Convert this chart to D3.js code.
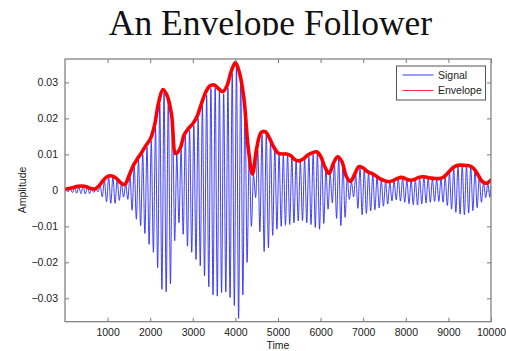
<!DOCTYPE html>
<html><head><meta charset="utf-8">
<script src="https://cdn.jsdelivr.net/npm/d3@7"></script>
<style>
html,body{margin:0;padding:0;background:#fff;}
svg{display:block;}
</style>
</head><body>
<script>
// ---- data ----
const title = "An Envelope Follower";
const xLabel = "Time";
const yLabel = "Amplitude";
const legendNames = ["Signal", "Envelope"];
const xTicks = [1000,2000,3000,4000,5000,6000,7000,8000,9000,10000];
const yTicks = [-0.03,-0.02,-0.01,0,0.01,0.02,0.03];
const cyclePeriod = 100; // time units per oscillation of the signal
// envelope, sampled every 100 time units from 0 to 10000
const envelope = [
 0.0003,0.0005,0.0008,0.0011,0.0012,0.0010,0.0005,0.0004,0.0013,0.0028,
 0.0039,0.0040,0.0034,0.0022,0.0016,0.0040,0.0068,0.0088,0.0105,0.0125,
 0.0142,0.0180,0.0245,0.0280,0.0262,0.0212,0.0102,0.0116,0.0155,0.0172,
 0.0185,0.0205,0.0240,0.0272,0.0290,0.0293,0.0283,0.0274,0.0290,0.0330,
 0.0355,0.0325,0.0255,0.0120,0.0045,0.0117,0.0160,0.0163,0.0145,0.0120,
 0.0104,0.0101,0.0101,0.0096,0.0085,0.0082,0.0088,0.0098,0.0104,0.0107,
 0.0095,0.0065,0.0047,0.0075,0.0093,0.0080,0.0040,0.0025,0.0045,0.0066,
 0.0062,0.0052,0.0047,0.0040,0.0032,0.0027,0.0024,0.0027,0.0033,0.0036,
 0.0032,0.0028,0.0030,0.0036,0.0038,0.0036,0.0034,0.0033,0.0033,0.0038,
 0.0050,0.0062,0.0069,0.0070,0.0069,0.0068,0.0060,0.0042,0.0024,0.0020,
 0.0029];
// signal: positive and negative peak of each oscillation cycle
const signalHigh = [
 0.0002,0.0004,0.0007,0.0010,0.0011,0.0009,0.0004,0.0003,0.0013,0.0027,
 0.0037,0.0038,0.0031,0.0020,0.0016,0.0040,0.0065,0.0084,0.0100,0.0120,
 0.0137,0.0175,0.0240,0.0272,0.0255,0.0200,0.0100,0.0112,0.0150,0.0167,
 0.0180,0.0200,0.0235,0.0265,0.0283,0.0285,0.0276,0.0268,0.0285,0.0325,
 0.0348,0.0315,0.0240,0.0108,0.0042,0.0112,0.0155,0.0157,0.0138,0.0115,
 0.0100,0.0097,0.0097,0.0092,0.0081,0.0079,0.0085,0.0094,0.0100,0.0103,
 0.0090,0.0060,0.0045,0.0072,0.0089,0.0075,0.0036,0.0023,0.0043,0.0063,
 0.0059,0.0049,0.0044,0.0037,0.0030,0.0025,0.0022,0.0025,0.0031,0.0034,
 0.0030,0.0026,0.0028,0.0034,0.0036,0.0034,0.0032,0.0031,0.0031,0.0036,
 0.0048,0.0059,0.0066,0.0067,0.0066,0.0065,0.0056,0.0039,0.0022,0.0019];
const signalLow = [
 -0.0004,-0.0006,-0.0008,-0.0009,-0.0010,-0.0009,-0.0006,-0.0004,-0.0018,-0.0032,
 -0.0036,-0.0036,-0.0028,-0.0019,-0.0025,-0.0055,-0.0080,-0.0098,-0.0120,-0.0150,
 -0.0172,-0.0215,-0.0275,-0.0282,-0.0260,-0.0140,-0.0090,-0.0122,-0.0155,-0.0172,
 -0.0192,-0.0210,-0.0238,-0.0268,-0.0290,-0.0294,-0.0284,-0.0282,-0.0298,-0.0320,
 -0.0356,-0.0290,-0.0200,-0.0100,-0.0020,-0.0115,-0.0170,-0.0160,-0.0125,-0.0108,
 -0.0100,-0.0097,-0.0095,-0.0090,-0.0085,-0.0084,-0.0090,-0.0095,-0.0103,-0.0108,
 -0.0092,-0.0052,-0.0035,-0.0078,-0.0098,-0.0075,-0.0025,-0.0018,-0.0050,-0.0068,
 -0.0064,-0.0057,-0.0054,-0.0049,-0.0044,-0.0038,-0.0029,-0.0026,-0.0030,-0.0033,
 -0.0037,-0.0040,-0.0041,-0.0038,-0.0035,-0.0033,-0.0031,-0.0031,-0.0033,-0.0042,
 -0.0052,-0.0061,-0.0066,-0.0068,-0.0063,-0.0056,-0.0048,-0.0033,-0.0020,-0.0019];

// ---- layout ----
const W = 506, H = 351;
const m = {left: 65, right: 491, top: 59, bottom: 321.7};

const svg = d3.select("body").append("svg").attr("width", W).attr("height", H);

const x = d3.scaleLinear().domain([0, 10000]).range([m.left, m.right]);
const y = d3.scaleLinear().domain([-0.0365, 0.0365]).range([m.bottom, m.top]);

// title (descenders clipped as in the reference)
svg.append("clipPath").attr("id","tclip").append("rect")
  .attr("x",0).attr("y",0).attr("width",W).attr("height",35.5);
svg.append("text").attr("clip-path","url(#tclip)")
  .attr("x", 270.5).attr("y", 34.5).attr("text-anchor","middle")
  .attr("font-family","'Liberation Serif','Times New Roman',serif")
  .attr("font-size", 35.5).attr("fill","#111").text(title);

// clip for data
svg.append("clipPath").attr("id","pclip").append("rect")
  .attr("x", m.left).attr("y", m.top - 4).attr("width", m.right - m.left).attr("height", m.bottom - m.top + 4);

// signal points
const sigPts = [[0, 0]];
signalHigh.forEach((h, k) => {
  sigPts.push([k * cyclePeriod + cyclePeriod * 0.25, h]);
  sigPts.push([k * cyclePeriod + cyclePeriod * 0.75, signalLow[k]]);
});
sigPts.push([10000, 0.0015]);

const g = svg.append("g").attr("clip-path","url(#pclip)");
g.append("path").datum(sigPts)
  .attr("fill","none").attr("stroke","#2a2aff").attr("stroke-width",0.9)
  .attr("d", d3.line().x(d => x(d[0])).y(d => y(d[1])).curve(d3.curveMonotoneX));

const envPts = envelope.map((v, i) => [i * 100, v]);
g.append("path").datum(envPts)
  .attr("fill","none").attr("stroke","#ff0000").attr("stroke-width",3.6)
  .attr("stroke-linejoin","round").attr("stroke-linecap","round")
  .attr("d", d3.line().x(d => x(d[0])).y(d => y(d[1])).curve(d3.curveCatmullRom.alpha(0.5)));

// axes
const axCol = "#7a7a7a";
const fmtY = d => d === 0 ? "0" : (d < 0 ? "\u2212" : "") + Math.abs(d).toFixed(2);
const tickFont = "'Liberation Sans',Arial,Helvetica,sans-serif";

const axB = svg.append("g").attr("transform", `translate(0,${m.bottom})`)
  .call(d3.axisBottom(x).tickValues(xTicks).tickSize(-4).tickPadding(7).tickFormat(d3.format("d")));
const axT = svg.append("g").attr("transform", `translate(0,${m.top})`)
  .call(d3.axisTop(x).tickValues(xTicks).tickSize(-4).tickFormat(""));
const axL = svg.append("g").attr("transform", `translate(${m.left},0)`)
  .call(d3.axisLeft(y).tickValues(yTicks).tickSize(-4).tickPadding(7).tickFormat(fmtY));
const axR = svg.append("g").attr("transform", `translate(${m.right},0)`)
  .call(d3.axisRight(y).tickValues(yTicks).tickSize(-4).tickFormat(""));

[axB, axT, axL, axR].forEach(a => {
  a.select(".domain").remove();
  a.selectAll(".tick line").attr("stroke", axCol);
  a.selectAll("text").attr("font-family", tickFont).attr("font-size", 10.5).attr("fill", "#1a1a1a");
});
svg.append("rect").attr("x", m.left).attr("y", m.top).attr("width", m.right - m.left)
  .attr("height", m.bottom - m.top).attr("fill","none").attr("stroke", axCol).attr("stroke-width", 1.2);

// axis labels
svg.append("text").attr("x", 278).attr("y", 349).attr("text-anchor","middle")
  .attr("font-family", tickFont).attr("font-size", 10.5).attr("fill","#1a1a1a").text(xLabel);
svg.append("text").attr("transform", `translate(26,190) rotate(-90)`).attr("text-anchor","middle")
  .attr("font-family", tickFont).attr("font-size", 10.5).attr("fill","#1a1a1a").text(yLabel);

// legend
const lg = svg.append("g");
lg.append("rect").attr("x", 396.5).attr("y", 66).attr("width", 89).attr("height", 34)
  .attr("fill","#fff").attr("stroke","#555").attr("stroke-width",1);
const legColors = ["#3a3aff", "#ff3030"];
legendNames.forEach((n, i) => {
  const yy = 75 + i * 15.5;
  lg.append("line").attr("x1", 402.5).attr("x2", 433.5).attr("y1", yy).attr("y2", yy)
    .attr("stroke", legColors[i]).attr("stroke-width", 1);
  lg.append("text").attr("x", 438).attr("y", yy + 3.8)
    .attr("font-family", tickFont).attr("font-size", 10.5).attr("fill","#1a1a1a").text(n);
});
</script>
</body></html>
